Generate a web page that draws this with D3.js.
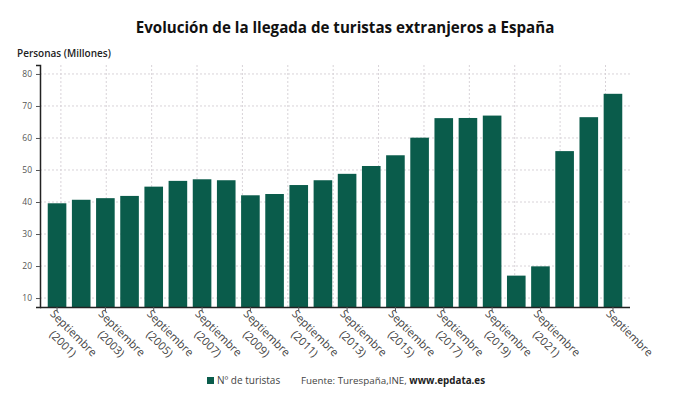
<!DOCTYPE html>
<html>
<head>
<meta charset="utf-8">
<script src="https://cdn.jsdelivr.net/npm/d3@7"></script>
<style>
  html, body { margin: 0; padding: 0; background: #fff; }
  svg { display: block; font-family: "Open Sans", sans-serif; }
</style>
</head>
<body>
<svg id="chart" width="690" height="405"></svg>
<script>
// ---- Data ----
const categories = ["2001","2002","2003","2004","2005","2006","2007","2008","2009","2010","2011","2012",
                    "2013","2014","2015","2016","2017","2018","2019","2020","2021","2022","2023","2024"];
const turistas = [39.6, 40.7, 41.2, 41.9, 44.8, 46.6, 47.1, 46.8, 42.1, 42.5, 45.3, 46.8,
                  48.8, 51.25, 54.6, 60.1, 66.2, 66.25, 67.0, 17.0, 19.9, 55.9, 66.5, 73.8];
const tickCategories = ["2001","2003","2005","2007","2009","2011","2013","2015","2017","2019","2021","2024"];
const tickLabels = ["Septiembre (2001)","Septiembre (2003)","Septiembre (2005)","Septiembre (2007)",
                    "Septiembre (2009)","Septiembre (2011)","Septiembre (2013)","Septiembre (2015)",
                    "Septiembre (2017)","Septiembre (2019)","Septiembre (2021)","Septiembre"];
const yTicks = [10, 20, 30, 40, 50, 60, 70, 80];
const yDomain = [7.2, 82.8];
const gridColumns = 13;

(function () {
// ---- Layout ----
const svg = d3.select("#chart");
const mLeft = 40, mRight = 630, mTop = 65, mBottom = 307;
const barColor = "#0a5c4b";

const x = d3.scaleBand().domain(categories).range([mLeft, mRight]).paddingInner(0.23).paddingOuter(0.32);
const y = d3.scaleLinear().domain(yDomain).range([mBottom, mTop]);
const gx = d3.scaleLinear().domain([0, gridColumns]).range([mLeft, mRight]);

// Grid
const grid = svg.append("g");
grid.selectAll("line.h").data(yTicks).join("line").attr("class", "h")
  .attr("x1", mLeft).attr("x2", mRight + 2)
  .attr("y1", d => y(d)).attr("y2", d => y(d))
  .attr("stroke", "#d8d3d8").attr("stroke-width", 1).attr("stroke-dasharray", "2,2");
grid.selectAll("line.v").data(d3.range(gridColumns)).join("line").attr("class", "v")
  .attr("x1", d => gx(d + 0.46)).attr("x2", d => gx(d + 0.46))
  .attr("y1", mTop).attr("y2", mBottom)
  .attr("stroke", "#d8d3d8").attr("stroke-width", 1).attr("stroke-dasharray", "2,2");

// Bars
svg.append("g").selectAll("rect").data(categories).join("rect")
  .attr("x", d => x(d)).attr("width", x.bandwidth())
  .attr("y", (d, i) => y(turistas[i])).attr("height", (d, i) => y(yDomain[0]) - y(turistas[i]))
  .attr("fill", barColor);

// Y axis
const yAxis = svg.append("g").attr("transform", `translate(${mLeft},0)`)
  .call(d3.axisLeft(y).tickValues(yTicks).tickSize(4).tickPadding(4));
yAxis.select(".domain").attr("stroke", "#222").attr("stroke-width", 1.5);
yAxis.selectAll(".tick line").attr("stroke", "#555");
yAxis.selectAll(".tick text").attr("fill", "#555").style("font-size", "8.5px").style("font-family", "Open Sans");

// X axis
const xAxis = svg.append("g").attr("transform", `translate(0,${mBottom})`)
  .call(d3.axisBottom(x).tickValues(tickCategories).tickSize(4).tickFormat(""));
xAxis.select(".domain").attr("stroke", "#222").attr("stroke-width", 1.5).attr("d", `M${mLeft},0.5H${mRight}`);
xAxis.selectAll(".tick line").attr("stroke", "#555");

// X labels (rotated, centred lines)
const lab = svg.append("g");
tickCategories.forEach((c, i) => {
  const cx = x(c) + x.bandwidth() / 2;
  const g = lab.append("g").attr("transform", `translate(${cx},${mBottom + 1}) rotate(45)`);
  const parts = tickLabels[i].match(/^(\S+)\s*(.*)$/);
  const lines = [parts[1]].concat(parts[2] ? [parts[2]] : []);
  const t = g.append("text").attr("fill", "#444").style("font-size", "11.2px");
  const w = 59;
  lines.forEach((ln, j) => {
    t.append("tspan").attr("x", w / 2).attr("y", 10 + j * 15).attr("text-anchor", "middle").text(ln);
  });
});

// Title
const title = svg.append("text").attr("x", 345).attr("y", 33).attr("text-anchor", "middle")
  .attr("fill", "#111").style("font-size", "16px").style("font-weight", 700)
  .text("Evolución de la llegada de turistas extranjeros a España");
const tw = title.node().getComputedTextLength();
title.style("font-size", (16 * 419 / tw) + "px");

// Y axis title
svg.append("text").attr("x", 17).attr("y", 57).attr("fill", "#222")
  .style("font-size", "10px").style("font-weight", 600).text("Personas (Millones)");

// Legend
svg.append("rect").attr("x", 207).attr("y", 377).attr("width", 7).attr("height", 7).attr("fill", barColor);
svg.append("text").attr("x", 217).attr("y", 384).attr("fill", "#444").style("font-size", "10px").text("Nº de turistas");
const src = svg.append("text").attr("x", 301).attr("y", 384).attr("fill", "#444").style("font-size", "9.8px");
src.append("tspan").text("Fuente: Turespaña,INE, ");
src.append("tspan").attr("fill", "#222").style("font-weight", 700).text("www.epdata.es");
})();
</script>
</body>
</html>
